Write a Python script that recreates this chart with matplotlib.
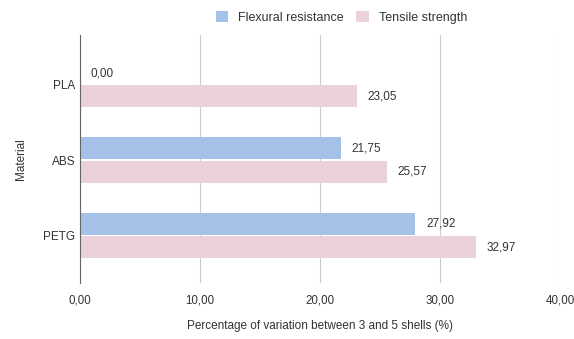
import matplotlib.pyplot as plt
import numpy as np

plt.rcParams['font.family'] = ['Liberation Sans', 'DejaVu Sans']

materials = ['PLA', 'ABS', 'PETG']
flexural = [0.00, 21.75, 27.92]
tensile = [23.05, 25.57, 32.97]
xticks = [0, 10, 20, 30, 40]

blue = '#a4c2e8'
pink = '#ead1dc'
txt = '#333333'


def fmt(v):
    return ('%.2f' % v).replace('.', ',')


fig = plt.figure(figsize=(5.74, 3.39), dpi=100)
ax = fig.add_axes([0.139, 0.165, 0.837, 0.732])

y = np.arange(len(materials))
h = 0.29
b1 = ax.barh(y - h / 2 - 0.01, flexural, height=h, color=blue, label='Flexural resistance', zorder=3)
b2 = ax.barh(y + h / 2 + 0.01, tensile, height=h, color=pink, label='Tensile strength', zorder=3)

for bars, vals in [(b1, flexural), (b2, tensile)]:
    for bar, v in zip(bars, vals):
        ax.text(v + 0.9, bar.get_y() + bar.get_height() / 2, fmt(v),
                va='center', ha='left', fontsize=8.5, color=txt)

ax.set_xlim(0, 40)
ax.set_ylim(2.63, -0.66)
ax.set_xticks(xticks)
ax.set_xticklabels([fmt(v) for v in xticks], fontsize=8.3, color=txt)
ax.set_yticks(y)
ax.set_yticklabels(materials, fontsize=8.5, color=txt)
ax.tick_params(axis='y', length=0, pad=3)
ax.tick_params(axis='x', length=0, pad=8)
ax.grid(axis='x', color='#cccccc', linewidth=0.8, zorder=0)
for s in ['top', 'right', 'bottom']:
    ax.spines[s].set_visible(False)
ax.spines['left'].set_color('#666666')
ax.spines['left'].set_zorder(4)

ax.set_xlabel('Percentage of variation between 3 and 5 shells (%)', fontsize=8.5, color=txt, labelpad=10)
ax.set_ylabel('Material', fontsize=8.5, color=txt, labelpad=12)

fig.legend(handles=[b1, b2], loc='upper center', bbox_to_anchor=(0.595, 1.0), ncol=2,
           frameon=False, fontsize=9, handlelength=1.0, handleheight=1.0,
           columnspacing=1.0, handletextpad=0.8, labelcolor=txt)

fig.savefig('out.png', dpi=100)
